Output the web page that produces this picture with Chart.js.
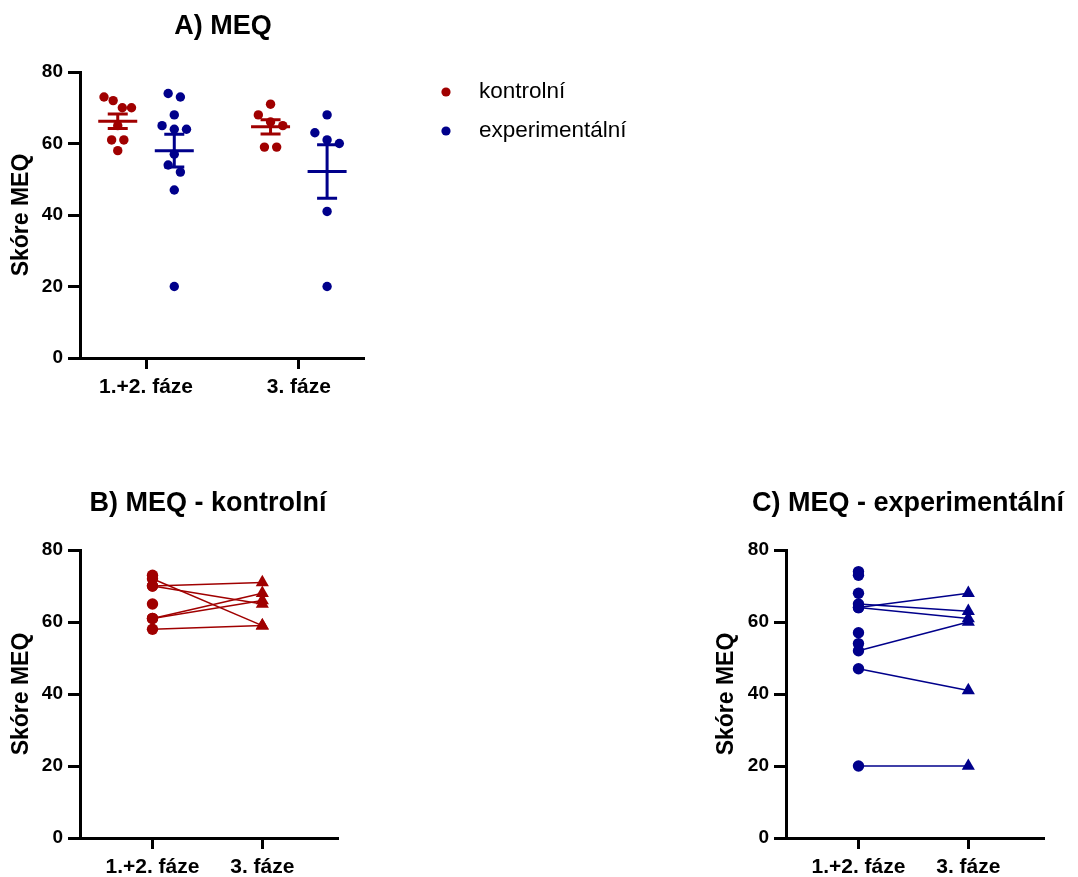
<!DOCTYPE html>
<html>
<head>
<meta charset="utf-8">
<title>MEQ</title>
<script src="https://cdn.jsdelivr.net/npm/chart.js@4.4.1/dist/chart.umd.min.js"></script>
<style>
  body { margin: 0; background: #fff; }
  #wrap { position: relative; width: 1078px; height: 877px; overflow: hidden; }
  canvas { position: absolute; }
</style>
</head>
<body>
<div id="wrap">
  <canvas id="chartA" width="700" height="420" style="left:0;top:0"></canvas>
  <canvas id="chartB" width="360" height="407" style="left:0;top:470px"></canvas>
  <canvas id="chartC" width="373" height="407" style="left:705px;top:470px"></canvas>
</div>
<script>
Chart.defaults.font.family = '"Liberation Sans", Arial, Helvetica, sans-serif';
Chart.defaults.color = '#000';

const categories = ['1.+2. fáze', '3. fáze'];
const groups = ['kontrolní', 'experimentální'];
const groupColors = ['#a00000', '#00008b'];

// MEQ score of each subject
const kontrolni12 = [73, 72, 70, 70, 65, 61, 61, 58];
const kontrolni3 = [71, 68, 66, 65, 59, 59];
const experimentalni12 = [74, 73, 68, 65, 64, 64, 57, 54, 52, 47, 20];
const experimentalni3 = [68, 63, 61, 60, 41, 20];

// same subject in both phases: [index in 1.+2. fáze, index in 3. fáze]
const kontrolniPairs = [[1, 4], [2, 0], [3, 3], [5, 1], [6, 2], [7, 5]];
const experimentalniPairs = [[4, 0], [3, 1], [5, 2], [8, 3], [9, 4], [10, 5]];

const yMin = 0, yMax = 80, yStep = 20;

// column scatter: close values share a row and are spread sideways
function swarm(values, center) {
  const order = values.map((v, i) => i).sort((a, b) => values[b] - values[a]);
  const pts = [];
  let row = [];
  const flush = () => {
    const step = row.length > 3 ? 0.06 : 0.08;
    row.forEach((idx, k) => pts.push({ x: center + (k - (row.length - 1) / 2) * step, y: values[idx] }));
    row = [];
  };
  order.forEach(idx => {
    if (row.length && values[row[row.length - 1]] - values[idx] > 2.5) flush();
    row.push(idx);
  });
  flush();
  return pts;
}

const blackLine = { color: '#000', lineWidth: 3, drawOnChartArea: false };

function xScale(min, max, height) {
  return {
    type: 'linear', min, max,
    afterBuildTicks: s => { s.ticks = categories.map((c, i) => ({ value: i + 1 })); },
    ticks: { callback: v => categories[v - 1], padding: 6, autoSkip: false, maxRotation: 0,
             font: { size: 21, weight: 'bold' }, color: '#000' },
    grid: Object.assign({ tickLength: 11 }, blackLine),
    border: { display: true, width: 3, color: '#000' },
    afterFit: s => { s.height = height; }
  };
}

function yScale(width) {
  return {
    min: yMin, max: yMax,
    ticks: { stepSize: yStep, padding: 5, font: { size: 19, weight: 'bold' }, color: '#000' },
    grid: Object.assign({ tickLength: 12 }, blackLine),
    border: { display: true, width: 3, color: '#000' },
    title: { display: true, text: 'Skóre MEQ', color: '#000', font: { size: 23, weight: 'bold' },
             padding: { top: 8, bottom: 0 } },
    afterFit: s => { s.width = width; }
  };
}

const panelTitle = {
  id: 'panelTitle',
  afterDraw(chart, args, opts) {
    const ctx = chart.ctx;
    ctx.save();
    ctx.font = 'bold 27px "Liberation Sans", Arial, sans-serif';
    ctx.fillStyle = '#000';
    ctx.textAlign = 'center';
    ctx.textBaseline = 'middle';
    ctx.fillText(opts.text, opts.x, opts.y);
    ctx.restore();
  }
};

// mean with SEM whiskers on top of each column
const meanSem = {
  id: 'meanSem',
  afterDatasetsDraw(chart) {
    const { ctx, scales: { x, y } } = chart;
    ctx.save();
    ctx.lineWidth = 3;
    chart.data.datasets.forEach(ds => {
      const n = ds.values.length;
      const mean = ds.values.reduce((a, b) => a + b, 0) / n;
      const sd = Math.sqrt(ds.values.reduce((a, v) => a + (v - mean) ** 2, 0) / (n - 1));
      const sem = sd / Math.sqrt(n);
      const cx = x.getPixelForValue(ds.center);
      const ym = y.getPixelForValue(mean);
      const yh = y.getPixelForValue(mean + sem);
      const yl = y.getPixelForValue(mean - sem);
      ctx.strokeStyle = ds.borderColor;
      ctx.beginPath();
      ctx.moveTo(cx - 19.5, ym); ctx.lineTo(cx + 19.5, ym);
      ctx.moveTo(cx, yh); ctx.lineTo(cx, yl);
      ctx.moveTo(cx - 10, yh); ctx.lineTo(cx + 10, yh);
      ctx.moveTo(cx - 10, yl); ctx.lineTo(cx + 10, yl);
      ctx.stroke();
    });
    ctx.restore();
  }
};

const groupLegend = {
  id: 'groupLegend',
  afterDraw(chart) {
    const ctx = chart.ctx;
    ctx.save();
    ctx.font = '22.5px "Liberation Sans", Arial, sans-serif';
    ctx.textBaseline = 'middle';
    groups.forEach((g, i) => {
      const y = 92 + i * 39;
      ctx.fillStyle = groupColors[i];
      ctx.beginPath();
      ctx.arc(446, y, 4.6, 0, Math.PI * 2);
      ctx.fill();
      ctx.fillStyle = '#000';
      ctx.fillText(g, 479, y);
    });
    ctx.restore();
  }
};

// A) both groups side by side in each phase
const seriesA = [
  { group: 0, cat: 0, values: kontrolni12 },
  { group: 0, cat: 1, values: kontrolni3 },
  { group: 1, cat: 0, values: experimentalni12 },
  { group: 1, cat: 1, values: experimentalni3 }
];
const datasetsA = seriesA.map(s => {
  const center = s.cat + 1 + (s.group === 0 ? -0.185 : 0.185);
  return {
    label: groups[s.group],
    data: swarm(s.values, center),
    center: center,
    values: s.values,
    backgroundColor: groupColors[s.group],
    borderColor: groupColors[s.group],
    pointRadius: 4.7,
    pointBorderWidth: 0
  };
});

new Chart(document.getElementById('chartA'), {
  type: 'scatter',
  data: { datasets: datasetsA },
  plugins: [meanSem, groupLegend, panelTitle],
  options: {
    responsive: false, animation: false, events: [],
    layout: { padding: { left: 0, top: 72, right: 337, bottom: 0 } },
    scales: { x: xScale(0.568, 2.42, 62), y: yScale(80) },
    plugins: { legend: { display: false }, tooltip: { enabled: false },
               panelTitle: { text: 'A) MEQ', x: 223, y: 27 } }
  }
});

// B), C) each subject's score joined between phases
function pairedDatasets(v12, v3, pairs, color) {
  const sets = [{
    data: v12.map(v => ({ x: 1, y: v })),
    backgroundColor: color, borderColor: color,
    pointStyle: 'circle', pointRadius: 5.7, pointBorderWidth: 0
  }];
  pairs.forEach(([i, j]) => sets.push({
    data: [{ x: 1, y: v12[i] }, { x: 2, y: v3[j] }],
    showLine: true,
    borderColor: color, backgroundColor: color, borderWidth: 1.5,
    pointStyle: 'triangle', pointRadius: [0, 7.6], pointBorderWidth: 0
  }));
  return sets;
}

function pairedChart(id, v12, v3, pairs, color, title, yWidth, padRight, titleX) {
  new Chart(document.getElementById(id), {
    type: 'scatter',
    data: { datasets: pairedDatasets(v12, v3, pairs, color) },
    plugins: [panelTitle],
    options: {
      responsive: false, animation: false, events: [],
      layout: { padding: { left: 0, top: 80, right: padRight, bottom: 0 } },
      scales: { x: xScale(0.34, 2.68, 39), y: yScale(yWidth) },
      plugins: { legend: { display: false }, tooltip: { enabled: false },
                 panelTitle: { text: title, x: titleX, y: 34 } }
    }
  });
}

pairedChart('chartB', kontrolni12, kontrolni3, kontrolniPairs, groupColors[0],
            'B) MEQ - kontrolní', 80, 23, 208);
pairedChart('chartC', experimentalni12, experimentalni3, experimentalniPairs, groupColors[1],
            'C) MEQ - experimentální', 81, 35, 203);
</script>
</body>
</html>
